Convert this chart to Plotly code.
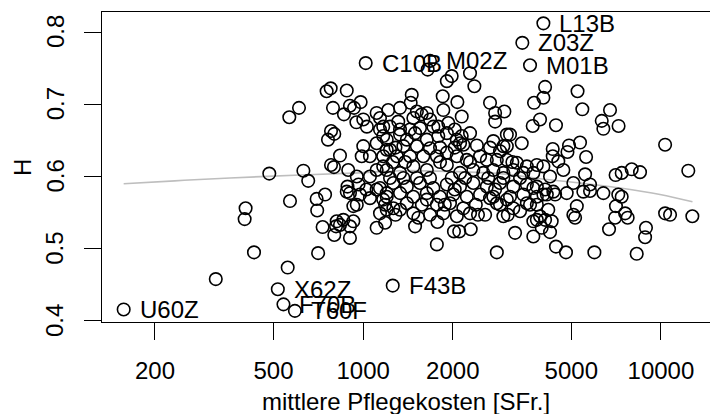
import numpy as np
import plotly.graph_objects as go

# mean nursing cost [SFr.] and H
cost = [320, 400, 403, 430, 558, 484, 565, 609, 630, 654, 568, 698, 745, 701, 731, 706,
        754, 778, 881, 792, 862, 903, 932, 981, 780, 800, 762, 949, 836, 780, 798, 891,
        886, 903, 815, 836, 811, 800, 858, 903, 927, 903, 927, 952, 881, 976, 1054, 1139,
        1110, 1185, 1200, 1001, 1054, 1110, 1168, 1139, 1200, 989, 1110, 1168, 1054, 952,
        965, 1025, 1139, 1200, 1029, 1001, 1110, 1139, 1647, 1910, 1983, 2285, 2363,
        1456, 1444, 1850, 2072, 1859, 2143, 1932, 2667, 2774, 2980, 2774, 3748, 3710,
        4083, 4029, 5247, 5445, 6745, 6326, 6407, 7206, 3926, 4441, 10326, 12355, 5349,
        4913, 4854, 4331, 4331, 5606, 4522, 4029, 4702, 5563, 7042, 7382, 7976, 8506,
        3408, 3037, 3113, 2957, 2409, 2285, 2143, 2115, 2736, 2882, 3037, 1214, 1330,
        1515, 1636, 1788, 1677, 1910, 2063, 1474, 1572, 1312, 1231, 1552, 1721, 1788,
        2170, 1168, 1200, 1330, 1402, 1494, 1636, 1365, 1515, 1677, 1231, 1168, 1298,
        1437, 1592, 1768, 1910, 2063, 2229, 2469, 2602, 2811, 3037, 3281, 3546, 3830,
        1200, 1330, 1474, 1636, 1910, 2115, 2344, 2533, 2736, 2957, 3194, 3451, 3728,
        1263, 1402, 1552, 1721, 1910, 2115, 2344, 2602, 2882, 3194, 3546, 3830, 1200,
        1330, 1474, 1636, 1812, 2008, 2229, 2469, 2736, 3113, 3451, 3830, 1494, 1776,
        2018, 2102, 2297, 2568, 2957, 3237, 3728, 1768, 2811, 1168, 1263, 1330, 1402,
        1474, 1532, 1636, 1768, 1859, 1957, 2063, 2170, 2285, 2667, 2811, 3037, 3194,
        3364, 3546, 3830, 3830, 4242, 5080, 5779, 5488, 4826, 4352, 4029, 3728, 6407,
        7190, 4138, 4412, 5779, 5218, 7062, 5080, 5149, 7015, 7579, 7731, 10326, 10728,
        12747, 4185, 3926, 3728, 4083, 4297, 3977, 4242, 6694, 8846, 4441, 4798, 5976,
        8290, 7382, 8906,
        1231, 1365, 1515, 1677, 1983, 2200, 2630, 2957, 3364,
        1257, 1384, 1812, 2285, 3170,
        1185, 1575, 1880, 2390, 2882, 3634,
        1284, 1812, 2030, 2667,
        1284, 1677, 2430, 3060,
        1330, 1437, 2030,
        1110, 2030, 2774, 4083]
H = [0.458, 0.541, 0.556, 0.495, 0.474, 0.604, 0.682, 0.695, 0.608, 0.594, 0.566, 0.569,
     0.575, 0.553, 0.530, 0.494, 0.718, 0.722, 0.719, 0.695, 0.686, 0.698, 0.695, 0.703,
     0.663, 0.659, 0.651, 0.675, 0.629, 0.616, 0.613, 0.609, 0.586, 0.577, 0.538, 0.533,
     0.531, 0.519, 0.540, 0.515, 0.538, 0.531, 0.559, 0.561, 0.579, 0.575, 0.570, 0.549,
     0.529, 0.536, 0.554, 0.642, 0.628, 0.646, 0.656, 0.665, 0.637, 0.628, 0.609, 0.614,
     0.600, 0.600, 0.589, 0.582, 0.584, 0.577, 0.669, 0.679, 0.688, 0.681, 0.748, 0.732,
     0.739, 0.743, 0.725, 0.713, 0.702, 0.711, 0.703, 0.692, 0.683, 0.674, 0.702, 0.688,
     0.690, 0.676, 0.702, 0.670, 0.724, 0.709, 0.718, 0.693, 0.692, 0.677, 0.666, 0.670,
     0.679, 0.671, 0.644, 0.608, 0.647, 0.643, 0.634, 0.638, 0.628, 0.627, 0.621, 0.614,
     0.609, 0.603, 0.602, 0.605, 0.610, 0.606, 0.646, 0.658, 0.658, 0.642, 0.643, 0.660,
     0.656, 0.646, 0.649, 0.635, 0.642, 0.692, 0.695, 0.690, 0.688, 0.669, 0.679, 0.660,
     0.651, 0.681, 0.686, 0.676, 0.669, 0.667, 0.669, 0.656, 0.644, 0.669, 0.651, 0.658,
     0.651, 0.660, 0.651, 0.642, 0.642, 0.639, 0.637, 0.628, 0.628, 0.628, 0.628, 0.628,
     0.633, 0.628, 0.623, 0.628, 0.623, 0.623, 0.623, 0.619, 0.614, 0.616, 0.609, 0.605,
     0.614, 0.609, 0.616, 0.605, 0.609, 0.605, 0.609, 0.605, 0.609, 0.605, 0.605, 0.591,
     0.586, 0.591, 0.584, 0.589, 0.586, 0.591, 0.586, 0.591, 0.586, 0.589, 0.586, 0.572,
     0.577, 0.572, 0.577, 0.572, 0.575, 0.572, 0.575, 0.572, 0.572, 0.575, 0.572, 0.531,
     0.537, 0.524, 0.524, 0.527, 0.547, 0.545, 0.522, 0.517, 0.506, 0.495, 0.568, 0.556,
     0.554, 0.563, 0.549, 0.543, 0.568, 0.561, 0.549, 0.563, 0.545, 0.556, 0.549, 0.570,
     0.563, 0.568, 0.556, 0.552, 0.563, 0.561, 0.540, 0.600, 0.591, 0.589, 0.579, 0.577,
     0.579, 0.575, 0.584, 0.577, 0.575, 0.575, 0.575, 0.580, 0.559, 0.559, 0.547, 0.543,
     0.543, 0.549, 0.543, 0.549, 0.547, 0.545, 0.554, 0.545, 0.538, 0.540, 0.538, 0.529,
     0.523, 0.527, 0.516, 0.503, 0.495, 0.495, 0.493, 0.572, 0.529,
     0.598, 0.598, 0.598, 0.598, 0.598, 0.598, 0.598, 0.598, 0.598,
     0.620, 0.620, 0.620, 0.620, 0.620,
     0.561, 0.561, 0.561, 0.561, 0.561, 0.561,
     0.640, 0.640, 0.640, 0.640,
     0.547, 0.547, 0.547, 0.547,
     0.665, 0.665, 0.665,
     0.582, 0.582, 0.582, 0.582]

# labelled points
lab_names = ["L13B", "Z03Z", "M01B", "C10B", "M02Z", "F43B", "X62Z", "F70B", "T60F", "U60Z"]
lab_cost = [4029, 3424, 3634, 1020, 1677, 1257, 517, 540, 590, 157]
lab_H = [0.812, 0.785, 0.754, 0.757, 0.760, 0.449, 0.444, 0.423, 0.414, 0.416]

# smoother (grey line)
smooth_cost = [157, 233, 357, 614, 976, 1330, 1957, 2882, 3926, 5349, 7287, 9929, 12760]
smooth_H = [0.590, 0.594, 0.598, 0.602, 0.605, 0.608, 0.607, 0.604, 0.597, 0.591, 0.584, 0.575, 0.565]

x_ticks = [200, 500, 1000, 2000, 5000, 10000]
x_ticktext = ["200", "500", "1000", "2000", "5000", "10000"]
y_ticks = [0.4, 0.5, 0.6, 0.7, 0.8]
y_ticktext = ["0.4", "0.5", "0.6", "0.7", "0.8"]

FONT = "Liberation Sans, Arial, sans-serif"
FS = 24

fig = go.Figure()
fig.add_trace(go.Scatter(x=smooth_cost, y=smooth_H, mode="lines",
                         line=dict(color="#bebebe", width=1.6, shape="spline"),
                         hoverinfo="skip", showlegend=False))
fig.add_trace(go.Scatter(x=cost + lab_cost, y=H + lab_H, mode="markers",
                         marker=dict(symbol="circle-open", size=12.5, color="black",
                                     line=dict(width=1.6, color="black")),
                         showlegend=False))

for n, c, h in zip(lab_names, lab_cost, lab_H):
    fig.add_annotation(x=np.log10(c), y=h, text=n, showarrow=False,
                       xanchor="left", yanchor="middle", xshift=14,
                       font=dict(family=FONT, size=FS, color="black"))

# y tick labels (rotated, as in R)
for v, t in zip(y_ticks, y_ticktext):
    fig.add_annotation(xref="paper", yref="y", x=-0.0773, y=v, text=t,
                       textangle=-90, showarrow=False, xanchor="center",
                       yanchor="middle", font=dict(family=FONT, size=FS, color="black"))

fig.add_annotation(xref="paper", yref="paper", x=-0.1316, y=0.5, text="H",
                   textangle=-90, showarrow=False, xanchor="center", yanchor="middle",
                   font=dict(family=FONT, size=FS, color="black"))
fig.add_annotation(xref="paper", yref="paper", x=0.5, y=-0.257,
                   text="mittlere Pflegekosten [SFr.]", showarrow=False,
                   xanchor="center", yanchor="middle",
                   font=dict(family=FONT, size=FS, color="black"))

fig.update_layout(
    width=710, height=414,
    margin=dict(l=102, r=0, t=12, b=92),
    paper_bgcolor="white", plot_bgcolor="white",
    font=dict(family=FONT, size=FS, color="black"),
    xaxis=dict(type="log", range=[2.1231, 4.1647], tickmode="array",
               tickvals=x_ticks, ticktext=x_ticktext, ticks="outside", ticklen=17,
               tickwidth=1.3, tickcolor="black", showline=True, linecolor="black",
               linewidth=1.3, mirror=True, showgrid=False, zeroline=False,
               ticklabelstandoff=10),
    yaxis=dict(range=[0.3986, 0.8277], tickmode="array", tickvals=y_ticks,
               showticklabels=False, ticks="outside", ticklen=17,
               tickwidth=1.3, tickcolor="black", showline=True, linecolor="black",
               linewidth=1.3, mirror=False, showgrid=False, zeroline=False),
)

fig.write_html("out.html")
